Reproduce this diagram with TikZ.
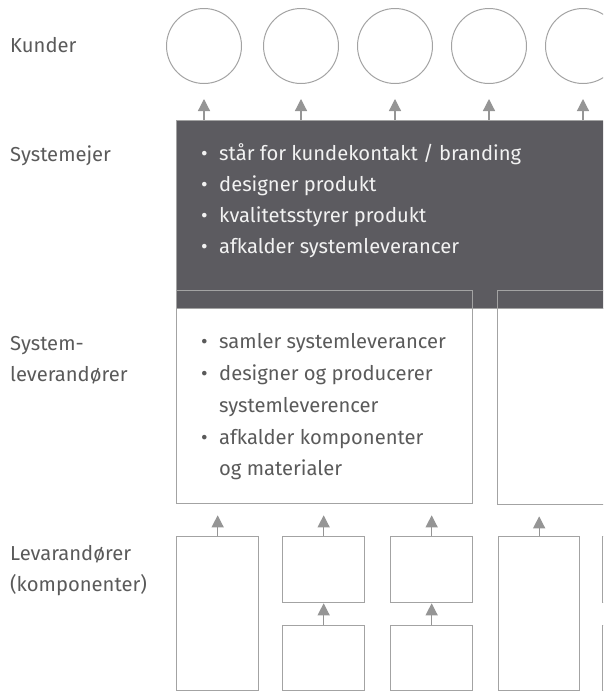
\documentclass[tikz,border=0pt]{standalone}
\usepackage{fontspec}
\setmainfont{Fira Sans}
\usetikzlibrary{arrows.meta}
\definecolor{ownerfill}{HTML}{5C5B60}
\definecolor{edge}{HTML}{A3A3A3}
\definecolor{arrowgray}{HTML}{959595}
\definecolor{ink}{HTML}{5A5A5A}
\definecolor{paper}{HTML}{F2F2F2}

\begin{document}
\begin{tikzpicture}[x=1pt,y=-1pt,
  lbl/.style={anchor=base west, inner sep=0pt, text=ink, font=\fontsize{20.2}{31}\selectfont},
  lightitem/.style={lbl, text=paper},
  cust/.style={circle, draw=edge, line width=1pt, minimum size=75pt, inner sep=0pt},
  frame/.style={rectangle, draw=edge, line width=1.3pt, inner sep=0pt, anchor=north west},
  arr/.style={draw=arrowgray, line width=1.2pt, -{Triangle[width=12pt,length=12pt]}},
]
\useasboundingbox (0,0) rectangle (603,691);
\clip (0,0) rectangle (603,691);

% row labels
\node[lbl] (lkunder) at (10,52) {Kunder};
\node[lbl] (lowner)  at (10,161) {Systemejer};
\node[lbl] (lsys1)   at (10,350) {System-};
\node[lbl] (lsys2)   at (10,381) {leverandører};
\node[lbl] (lsup1)   at (10,560) {Levarandører};
\node[lbl] (lsup2)   at (10,591) {(komponenter)};

% customers
\node[cust] (c1) at (204,46) {};
\node[cust] (c2) at (301,46) {};
\node[cust] (c3) at (395,46) {};
\node[cust] (c4) at (489,46) {};
\node[cust] (c5) at (583,46) {};

% system owner
\node[frame, fill=ownerfill, minimum width=450pt, minimum height=188pt] (owner) at (176,120) {};

% system suppliers (outlines drawn over the owner box)
\node[frame, minimum width=296pt, minimum height=213pt] (sys1) at (176,290) {};
\node[frame, minimum width=150pt, minimum height=214pt] (sys2) at (497,290) {};

% component suppliers
\node[frame, minimum width=82pt, minimum height=154pt] (supA)  at (176,536) {};
\node[frame, minimum width=82pt, minimum height=66pt]  (supBt) at (282,536) {};
\node[frame, minimum width=82pt, minimum height=65pt]  (supBb) at (282,625) {};
\node[frame, minimum width=82pt, minimum height=66pt]  (supCt) at (390,536) {};
\node[frame, minimum width=82pt, minimum height=65pt]  (supCb) at (390,625) {};
\node[frame, minimum width=81pt, minimum height=154pt] (supD)  at (498,536) {};
\node[frame, minimum width=82pt, minimum height=66pt]  (supEt) at (602,536) {};
\node[frame, minimum width=82pt, minimum height=65pt]  (supEb) at (602,625) {};

% owner tasks
\node[lightitem] (o1) at (201,160) {\makebox[18pt][l]{•}står for kundekontakt / branding};
\node[lightitem] (o2) at (201,191) {\makebox[18pt][l]{•}designer produkt};
\node[lightitem] (o3) at (201,222) {\makebox[18pt][l]{•}kvalitetsstyrer produkt};
\node[lightitem] (o4) at (201,253) {\makebox[18pt][l]{•}afkalder systemleverancer};

% system supplier tasks
\node[lbl] (s1) at (201,348) {\makebox[18pt][l]{•}samler systemleverancer};
\node[lbl] (s2) at (201,380) {\makebox[18pt][l]{•}designer og producerer};
\node[lbl] (s3) at (201,412) {\hspace*{18pt}systemleverencer};
\node[lbl] (s4) at (201,444) {\makebox[18pt][l]{•}afkalder komponenter};
\node[lbl] (s5) at (201,475) {\hspace*{18pt}og materialer};

% deliveries to customers
\foreach \c in {c1,c2,c3,c4,c5}
  \draw[arr, shorten >=15pt] (owner.north -| \c) -- (\c.south);

% deliveries to system suppliers
\draw[arr, shorten >=11pt] (supA.north)  -- (supA.north  |- sys1.south);
\draw[arr, shorten >=11pt] (supBt.north) -- (supBt.north |- sys1.south);
\draw[arr, shorten >=11pt] (supCt.north) -- (supCt.north |- sys1.south);
\draw[arr, shorten >=11pt] (supD.north)  -- (supD.north  |- sys2.south);

% sub-suppliers
\draw[arr] (supBb.north) -- (supBt.south);
\draw[arr] (supCb.north) -- (supCt.south);

\end{tikzpicture}
\end{document}
